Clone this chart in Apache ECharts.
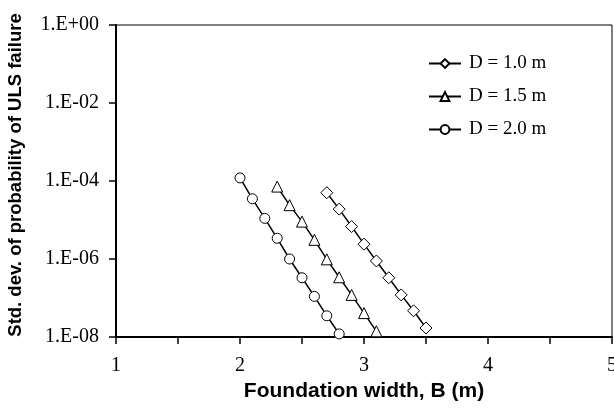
<!DOCTYPE html>
<html lang="en">
<head>
<meta charset="UTF-8" />
<title>ULS failure</title>
<style>
  * { margin: 0; padding: 0; box-sizing: border-box; }
  body { background: #fff; }
  #chart { width: 614px; height: 410px; }
</style>
</head>
<body>
<div id="chart"></div>
<script src="https://cdn.jsdelivr.net/npm/echarts@6/dist/echarts.min.js"></script>
<script>
// foundation widths B (m) for each depth
var widthD10 = [2.7, 2.8, 2.9, 3.0, 3.1, 3.2, 3.3, 3.4, 3.5]
var widthD15 = [2.3, 2.4, 2.5, 2.6, 2.7, 2.8, 2.9, 3.0, 3.1]
var widthD20 = [2.0, 2.1, 2.2, 2.3, 2.4, 2.5, 2.6, 2.7, 2.8]

// std. dev. of probability of ULS failure
var sdD10 = [5.0e-5, 1.9e-5, 6.8e-6, 2.4e-6, 8.9e-7, 3.3e-7, 1.2e-7, 4.7e-8, 1.7e-8]
var sdD15 = [7.2e-5, 2.4e-5, 9.1e-6, 3.1e-6, 9.8e-7, 3.4e-7, 1.2e-7, 4.1e-8, 1.4e-8]
var sdD20 = [1.2e-4, 3.5e-5, 1.1e-5, 3.4e-6, 1.0e-6, 3.3e-7, 1.1e-7, 3.5e-8, 1.2e-8]

var seriesNames = ['D = 1.0 m', 'D = 1.5 m', 'D = 2.0 m']

function pairs(xs, ys) {
  return xs.map(function (x, i) { return [x, ys[i]] })
}

var serif = '"Liberation Serif", "Times New Roman", serif'
var sans = '"Liberation Sans", Arial, sans-serif'

function lineSeries(name, xs, ys, symbol, size) {
  return {
    name: name,
    type: 'line',
    data: pairs(xs, ys),
    symbol: symbol,
    symbolSize: size,
    showSymbol: true,
    lineStyle: { color: '#000', width: 1.5 },
    itemStyle: { color: '#fff', borderColor: '#000', borderWidth: 1 },
    emphasis: { disabled: true },
    animation: false,
    z: 3
  }
}

var chart = echarts.init(document.getElementById('chart'))
chart.setOption({
  animation: false,
  grid: {
    left: 116, right: 2, top: 25, bottom: 73,
    outerBoundsMode: 'none',
    containLabel: false,
    show: true, borderColor: '#000', borderWidth: 1
  },
  legend: {
    orient: 'vertical',
    left: 428,
    top: 54,
    padding: 0,
    itemGap: 14,
    itemWidth: 32,
    itemHeight: 11,
    data: seriesNames,
    textStyle: { fontFamily: serif, fontSize: 19, color: '#000', padding: [0, 0, 0, 3] }
  },
  xAxis: {
    type: 'value',
    min: 1, max: 5, interval: 0.5,
    name: 'Foundation width, B (m)',
    nameLocation: 'middle',
    nameGap: 40,
    nameTextStyle: { fontFamily: sans, fontWeight: 'bold', fontSize: 21, color: '#000' },
    axisLine: { show: true, onZero: false, lineStyle: { color: '#000', width: 2 } },
    axisTick: { show: true, inside: false, length: 7, lineStyle: { color: '#000', width: 1.5 } },
    axisLabel: {
      margin: 19,
      fontFamily: serif, fontSize: 20, color: '#000',
      formatter: function (v) { return Number.isInteger(v) ? String(v) : '' }
    },
    splitLine: { show: false }
  },
  yAxis: {
    type: 'log',
    logBase: 100,
    min: 1e-8, max: 1,
    name: 'Std. dev. of probability of ULS failure',
    nameLocation: 'middle',
    nameGap: 91,
    nameTextStyle: {
      fontFamily: sans, fontWeight: 'bold', fontSize: 18.5, color: '#000',
      padding: [0, 0, 0, 12]
    },
    axisLine: { show: true, lineStyle: { color: '#000', width: 2 } },
    axisTick: { show: true, inside: false, length: 7, lineStyle: { color: '#000', width: 1.5 } },
    axisLabel: {
      margin: 17,
      fontFamily: serif, fontSize: 20, color: '#000',
      formatter: function (v) {
        var e = Math.round(Math.log10(v))
        var s = Math.abs(e) < 10 ? '0' + Math.abs(e) : String(Math.abs(e))
        return '1.E' + (e < 0 ? '-' : '+') + s
      }
    },
    splitLine: { show: false }
  },
  series: [
    lineSeries(seriesNames[0], widthD10, sdD10, 'path://M0,-1L1,0L0,1L-1,0Z', 12),
    lineSeries(seriesNames[1], widthD15, sdD15, 'triangle', 11),
    lineSeries(seriesNames[2], widthD20, sdD20, 'circle', 10)
  ]
})
</script>
</body>
</html>
